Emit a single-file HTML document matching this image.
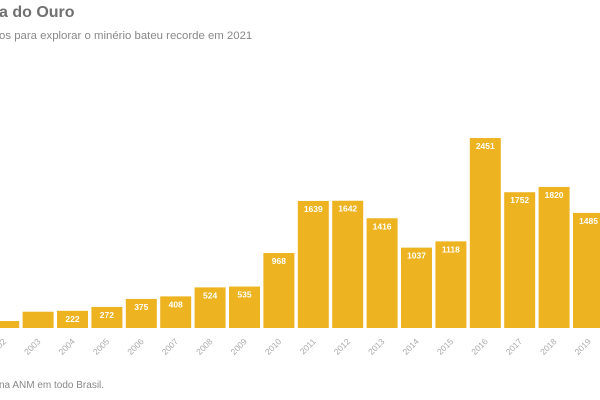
<!DOCTYPE html>
<html><head><meta charset="utf-8"><style>
body{margin:0;width:600px;height:400px;overflow:hidden;background:#fff;font-family:"Liberation Sans",sans-serif;position:relative}
.t{position:absolute;white-space:nowrap;color:#777}
</style></head><body>
<div class="t" style="left:-1px;top:4px;font-size:16px;font-weight:bold;color:#707070">a do Ouro</div>
<div class="t" style="left:-1px;top:30px;font-size:11.4px;color:#888">os para explorar o minério bateu recorde em 2021</div>
<div class="t" style="left:-1px;top:380px;font-size:10px;color:#888">na ANM em todo Brasil.</div>
<svg width="600" height="400" style="position:absolute;left:0;top:0" font-family="Liberation Sans, sans-serif">
<g id="bars"></g>
</svg>
<script>
var d=[[2002,90],[2003,210],[2004,222],[2005,272],[2006,375],[2007,408],[2008,524],[2009,535],[2010,968],[2011,1639],[2012,1642],[2013,1416],[2014,1037],[2015,1118],[2016,2451],[2017,1752],[2018,1820],[2019,1485]];
var g=document.getElementById('bars'),s='';
d.forEach(function(e,i){var x=57+(i-2)*34.4,h=e[1]*0.0775,y=328-h,cx=x+15.5;
s+='<rect x="'+x+'" y="'+y+'" width="31" height="'+h+'" fill="#edb320"/>';
if(i>=2)s+='<text x="'+cx+'" y="'+(y+11)+'" font-size="8.5" font-weight="bold" fill="#fff" text-anchor="middle">'+e[1]+'</text>';
s+='<text transform="translate('+(cx+3)+',342) rotate(-45)" font-size="8.5" fill="#aaa" text-anchor="end">'+e[0]+'</text>';});
g.innerHTML=s;
</script>
</body></html>
